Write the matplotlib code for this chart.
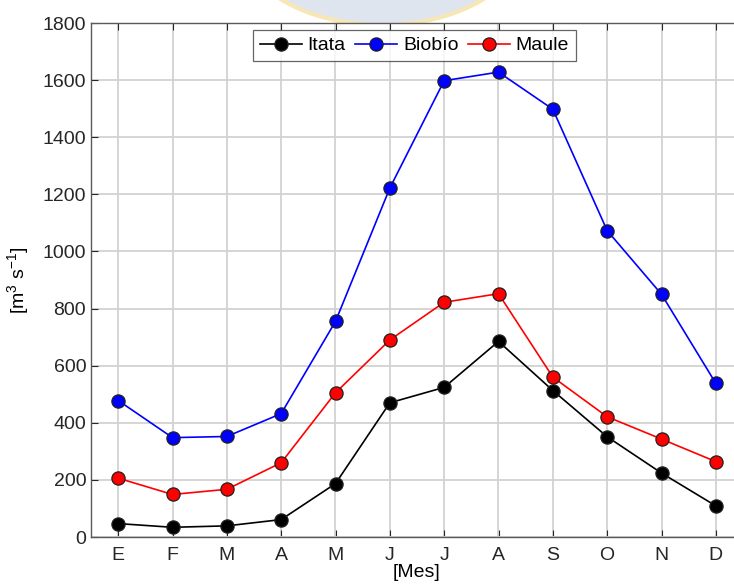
import matplotlib.pyplot as plt
from matplotlib.patches import Ellipse

plt.rcParams['font.family'] = ['Liberation Sans', 'DejaVu Sans']
plt.rcParams['mathtext.fontset'] = 'custom'
plt.rcParams['mathtext.rm'] = 'Liberation Sans'
plt.rcParams['mathtext.default'] = 'regular'

meses = ['E', 'F', 'M', 'A', 'M', 'J', 'J', 'A', 'S', 'O', 'N', 'D']
itata = [47, 34, 39, 61, 187, 470, 524, 685, 513, 351, 224, 109]
biobio = [478, 348, 352, 432, 755, 1222, 1598, 1628, 1498, 1073, 850, 538]
maule = [206, 149, 167, 260, 505, 690, 822, 852, 560, 421, 343, 264]

W, H = 734, 586
fig = plt.figure(figsize=(W / 100, H / 100), dpi=100)

# sello de fondo (marca de agua), asoma sobre el borde superior del eje
sello = Ellipse((382 / W, 1 + 60 / H), 282 / W, 170 / H, transform=fig.transFigure,
                facecolor='#dfe5ee', edgecolor='#f7e7b5', linewidth=3, zorder=0)
fig.patches.append(sello)

ax = fig.add_axes([91 / W, 1 - 537 / H, 652 / W, 514 / H])
ax.set_zorder(1)

x = range(1, 13)
estilo = dict(marker='o', markersize=9.5, markeredgecolor='#202020', markeredgewidth=0.9, linewidth=1.2)
ax.plot(x, itata, color='black', markerfacecolor='black', label='Itata', **estilo)
ax.plot(x, biobio, color='#0000ff', markerfacecolor='#0000ff', label='Biobío', **estilo)
ax.plot(x, maule, color='#ff0000', markerfacecolor='#ff0000', label='Maule', **estilo)

ax.set_xlim(0.5, 12.5)
ax.set_ylim(0, 1800)
ax.set_xticks(list(x))
ax.set_xticklabels(meses)
ax.set_yticks(range(0, 1801, 200))
ax.grid(True, color='#d2d2d2', linewidth=1.3)
ax.set_axisbelow(True)
ax.tick_params(direction='in', length=5, labelsize=14, colors='#262626', top=True, right=True)
ax.tick_params(axis='x', pad=7)
for s in ax.spines.values():
    s.set_color('#5a5a5a')
    s.set_linewidth(1.0)

ax.set_xlabel('[Mes]', fontsize=14, labelpad=0)
ax.set_ylabel('[m$^3$ s$^{-1}$]', fontsize=14, labelpad=8)

leg = ax.legend(loc='upper left', bbox_to_anchor=(253 / W, 1 - 30 / H), bbox_transform=fig.transFigure,
                ncol=3, fontsize=14, frameon=True, fancybox=False, borderaxespad=0,
                handlelength=2.15, handletextpad=0.3, columnspacing=0.5, borderpad=0.35)
leg.get_frame().set_edgecolor('#404040')
leg.get_frame().set_linewidth(0.9)

fig.savefig('out.png', dpi=100)
